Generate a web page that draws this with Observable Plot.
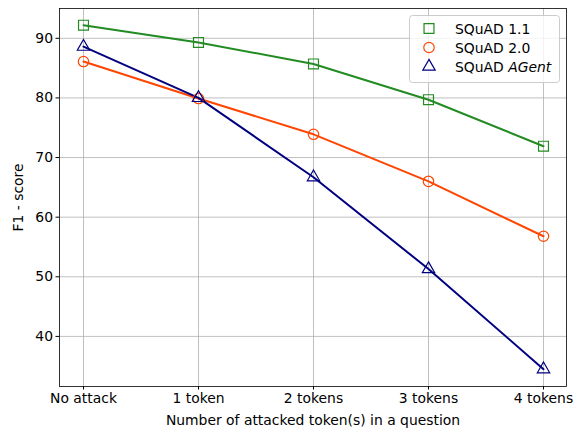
<!DOCTYPE html>
<html>
<head>
<meta charset="utf-8">
<script src="https://cdn.jsdelivr.net/npm/d3@7"></script>
<script src="https://cdn.jsdelivr.net/npm/@observablehq/plot@0.6"></script>
<style>
  html, body { margin: 0; padding: 0; background: #fff; }
  #chart { position: relative; width: 582px; height: 431px; }
  svg { font-family: "DejaVu Sans", sans-serif; }
</style>
</head>
<body>
<div id="chart"></div>
<script>
const categories = ["No attack", "1 token", "2 tokens", "3 tokens", "4 tokens"];
const squad11 = [92.2, 89.3, 85.7, 79.7, 71.9];
const squad20 = [86.1, 79.9, 73.9, 66.0, 56.8];
const squadAgent = [88.6, 80.0, 66.7, 51.3, 34.5];
const yTicks = [40, 50, 60, 70, 80, 90];

const seriesDefs = [
  {name: "SQuAD 1.1", values: squad11, color: "#228B22", symbol: "square", r: 5.6},
  {name: "SQuAD 2.0", values: squad20, color: "#FF4500", symbol: "circle", r: 5.2},
  {name: "SQuAD AGent", values: squadAgent, color: "#000080", symbol: "triangle", r: 4.6}
];

const FS = 13.9;
const marks = [
  Plot.gridX(categories, {stroke: "#b0b0b0", strokeOpacity: 1, strokeWidth: 0.8}),
  Plot.gridY(yTicks, {stroke: "#b0b0b0", strokeOpacity: 1, strokeWidth: 0.8}),
  Plot.axisX({tickSize: 3.5, tickPadding: 3, fontSize: FS, label: "Number of attacked token(s) in a question", labelAnchor: "center", labelOffset: 38, labelArrow: "none"}),
  Plot.axisY(yTicks, {tickSize: 3.5, tickPadding: 3, fontSize: FS, label: "F1 - score", labelAnchor: "center", labelOffset: 46, labelArrow: "none"})
];
for (const s of seriesDefs) {
  const data = categories.map((c, i) => ({x: c, y: s.values[i]}));
  marks.push(Plot.line(data, {x: "x", y: "y", stroke: s.color, strokeWidth: 2}));
}
for (const s of seriesDefs) {
  const data = categories.map((c, i) => ({x: c, y: s.values[i]}));
  marks.push(Plot.dot(data, {x: "x", y: "y", stroke: s.color, fill: "none", symbol: s.symbol, r: s.r, strokeWidth: 1.2}));
}
marks.push(Plot.frame({stroke: "black", strokeWidth: 0.8}));

const plot = Plot.plot({
  width: 582,
  height: 431,
  marginLeft: 59,
  marginRight: 16,
  marginTop: 8,
  marginBottom: 45,
  style: {fontFamily: "DejaVu Sans, sans-serif", fontSize: FS + "px", color: "black", background: "white"},
  x: {type: "point", domain: categories, padding: 0.2},
  y: {domain: [31.6, 95.0]},
  marks
});
document.getElementById("chart").appendChild(plot);

// Legend
const svg = d3.select(plot);
const lg = svg.append("g").attr("text-anchor", "start");
lg.append("rect").attr("x", 409.5).attr("y", 15.5).attr("width", 150).attr("height", 67)
  .attr("rx", 3).attr("fill", "white").attr("fill-opacity", 0.8).attr("stroke", "#cccccc").attr("stroke-width", 1);
const symMap = {square: d3.symbolSquare, circle: d3.symbolCircle, triangle: d3.symbolTriangle};
seriesDefs.forEach((s, i) => {
  const cy = 28.5 + i * 19;
  lg.append("path").attr("d", d3.symbol(symMap[s.symbol], Math.PI * s.r * s.r)())
    .attr("transform", `translate(429,${cy})`).attr("fill", "none").attr("stroke", s.color).attr("stroke-width", 1.2);
  const t = lg.append("text").attr("x", 455).attr("y", cy).attr("dy", "0.36em")
    .attr("font-size", FS).attr("fill", "black").attr("text-anchor", "start");
  if (s.name === "SQuAD AGent") {
    t.append("tspan").text("SQuAD ");
    t.append("tspan").attr("font-style", "italic").text("AGent");
  } else {
    t.text(s.name);
  }
});
</script>
</body>
</html>
